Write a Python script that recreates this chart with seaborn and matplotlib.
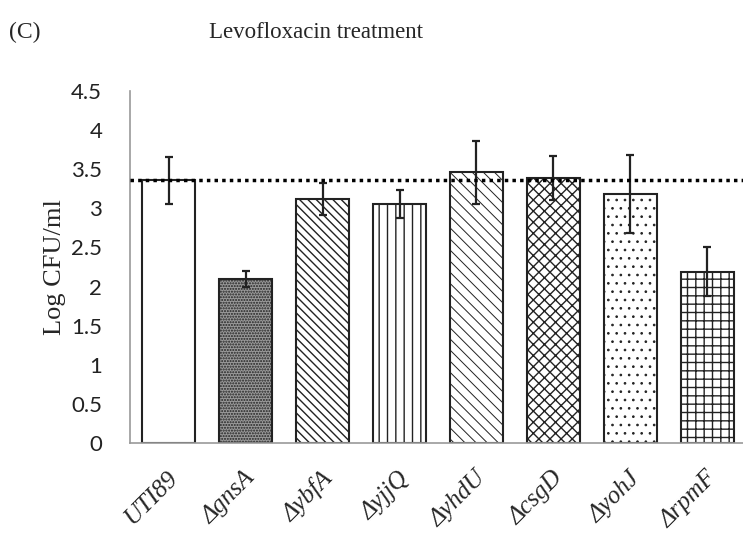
import matplotlib
matplotlib.use("Agg")
import matplotlib.pyplot as plt
import seaborn as sns
import pandas as pd
import numpy as np

strains = ["UTI89", "ΔgnsA", "ΔybfA", "ΔyjjQ", "ΔyhdU", "ΔcsgD", "ΔyohJ", "ΔrpmF"]
log_cfu = [3.36, 2.10, 3.12, 3.06, 3.46, 3.39, 3.18, 2.19]
err = [0.30, 0.10, 0.20, 0.18, 0.40, 0.28, 0.50, 0.31]
hatches = ["", "......", "\\\\\\\\", "||", "\\\\\\", "xxx", "..", "++"]
reference_level = log_cfu[0]
yticks = [0, 0.5, 1, 1.5, 2, 2.5, 3, 3.5, 4, 4.5]
ytick_labels = ["0", "0.5", "1", "1.5", "2", "2.5", "3", "3.5", "4", "4.5"]

sns.set_style("white")
plt.rcParams["hatch.linewidth"] = 1.0

df = pd.DataFrame({"strain": strains, "value": log_cfu})

fig = plt.figure(figsize=(7.43, 5.35), dpi=100)
ax = fig.add_axes([0.175, 0.172, 0.829, 0.658])

sns.barplot(data=df, x="strain", y="value", color="white", edgecolor="#222222",
            linewidth=1.5, width=0.7, errorbar=None, ax=ax, saturation=1)
for patch, h, s in zip(ax.patches, hatches, strains):
    patch.set_hatch(h)
    if s == "ΔgnsA":
        patch.set_facecolor("#9a9a9a")
    if s in ("ΔyhdU", "ΔyohJ"):
        try:
            patch.set_hatch_linewidth(0.7)
        except Exception:
            pass

ax.errorbar(np.arange(len(strains)), log_cfu, yerr=err, fmt="none",
            ecolor="#222222", elinewidth=1.6, capsize=3.2, capthick=1.6, zorder=5)

ax.axhline(reference_level, color="black", linestyle=(0, (1, 1.2)), linewidth=2.5, zorder=6)

ax.set_xlim(-0.5, len(strains) - 0.5)
ax.set_ylim(0, 4.5)
ax.set_yticks(yticks)
ax.set_yticklabels(ytick_labels, fontsize=16, family="Lato", color="#222222")

# x ticks at category boundaries
ax.set_xticks(np.arange(len(strains) + 1) - 0.5, minor=False)
ax.set_xticklabels([])
ax.tick_params(axis="x", direction="out", length=7, color="#999999", width=1.2)
ax.tick_params(axis="y", direction="out", length=7, color="#999999", width=1.2, pad=13)
for i, s in enumerate(strains):
    ax.text(i - 0.02, -0.31, s, rotation=45, ha="right", va="top", rotation_mode="anchor",
            fontsize=18, family="Liberation Serif", style="italic",
            transform=ax.transData)

for side in ["top", "right"]:
    ax.spines[side].set_visible(False)
for side in ["left", "bottom"]:
    ax.spines[side].set_color("#999999")
    ax.spines[side].set_linewidth(1.2)

ax.set_ylabel("Log CFU/ml", fontsize=19, family="Liberation Serif", labelpad=4)
ax.set_xlabel("")

fig.text(0.012, 0.94, "(C)", fontsize=17, family="Liberation Serif", va="center")
fig.text(0.425, 0.94, "Levofloxacin treatment", fontsize=16.5, family="Liberation Serif",
         va="center", ha="center")

fig.savefig("out.png", dpi=100)
